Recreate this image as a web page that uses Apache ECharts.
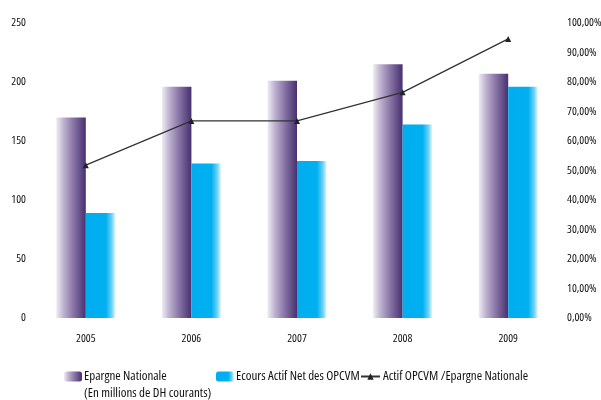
<!DOCTYPE html>
<html>
<head>
<meta charset="utf-8">
<script src="https://cdn.jsdelivr.net/npm/echarts@6/dist/echarts.min.js"></script>
<style>html,body{margin:0;padding:0;background:#fff;}#c{width:601px;height:400px;}</style>
</head>
<body>
<div id="c"></div>
<script>
const years = ['2005', '2006', '2007', '2008', '2009'];
const epargne = [170, 196, 201, 215, 207];
const actifNet = [89, 131, 133, 164, 196];
const ratio = [0.518, 0.668, 0.668, 0.765, 0.946];
const leftTicks = [0, 50, 100, 150, 200, 250];
const rightTicks = [0, 0.1, 0.2, 0.3, 0.4, 0.5, 0.6, 0.7, 0.8, 0.9, 1.0];

const FONT = "'Open Sans', 'Roboto Condensed', sans-serif";
const STRETCH = 'condensed';
const chart = echarts.init(document.getElementById('c'), null, {renderer: 'canvas'});

const purple = new echarts.graphic.LinearGradient(0, 0, 1, 0, [
  {offset: 0, color: '#efecf4'},
  {offset: 0.25, color: '#bdb2cf'},
  {offset: 0.55, color: '#8d7aa9'},
  {offset: 1, color: '#46306f'}
]);
const cyan = new echarts.graphic.LinearGradient(0, 0, 1, 0, [
  {offset: 0, color: '#00aeef'},
  {offset: 0.68, color: '#00b0f0'},
  {offset: 0.88, color: '#6fd2f8'},
  {offset: 1, color: '#e2f6fe'}
]);

const legendText = {fontFamily: FONT, fontWeight: STRETCH, fontSize: 13, color: '#111'};
const axisText = {fontFamily: FONT, fontWeight: STRETCH, fontSize: 11.5, color: '#111'};

chart.setOption({
  animation: false,
  textStyle: {fontFamily: FONT},
  grid: {left: 33, right: 40, top: 23, bottom: 82, outerBoundsMode: 'none', containLabel: false},
  legend: [
    {data: ['Epargne Nationale'], left: 64, top: 370, itemWidth: 18, itemHeight: 10, padding: 0,
     textStyle: Object.assign({padding: [0, 0, 0, -3]}, legendText)},
    {data: ['Ecours Actif Net des OPCVM'], left: 216, top: 370, itemWidth: 18, itemHeight: 10, padding: 0,
     textStyle: Object.assign({padding: [0, 0, 0, -3]}, legendText)},
    {data: ['Actif OPCVM /Epargne Nationale'], left: 360, top: 370, itemWidth: 19, itemHeight: 8, padding: 0,
     textStyle: Object.assign({padding: [0, 0, 0, -2]}, legendText)}
  ],
  graphic: [{
    type: 'text', left: 84, top: 387,
    style: {text: '(En millions de DH courants)', fontFamily: FONT, fontWeight: STRETCH, fontSize: 13, fill: '#111'}
  }],
  xAxis: {
    type: 'category', data: years,
    axisLine: {show: false}, axisTick: {show: false},
    axisLabel: Object.assign({margin: 15}, axisText)
  },
  yAxis: [
    {type: 'value', min: 0, max: 250, interval: 50,
     axisLine: {show: false}, axisTick: {show: false}, splitLine: {show: false},
     axisLabel: Object.assign({margin: 7}, axisText)},
    {type: 'value', min: 0, max: 1, interval: 0.1, position: 'right',
     axisLine: {show: false}, axisTick: {show: false}, splitLine: {show: false},
     axisLabel: Object.assign({margin: 6,
       formatter: v => (v * 100).toFixed(2).replace('.', ',') + '%'}, axisText)}
  ],
  series: [
    {name: 'Epargne Nationale', type: 'bar', data: epargne, barWidth: 29.5, barGap: '0%',
     itemStyle: {color: purple}},
    {name: 'Ecours Actif Net des OPCVM', type: 'bar', data: actifNet, barWidth: 29.5, barGap: '0%',
     itemStyle: {color: cyan}},
    {name: 'Actif OPCVM /Epargne Nationale', type: 'line', yAxisIndex: 1, data: ratio,
     symbol: 'triangle', symbolSize: 6, z: 5,
     lineStyle: {color: '#333', width: 1.3},
     itemStyle: {color: '#222'}}
  ]
});
</script>
</body>
</html>
